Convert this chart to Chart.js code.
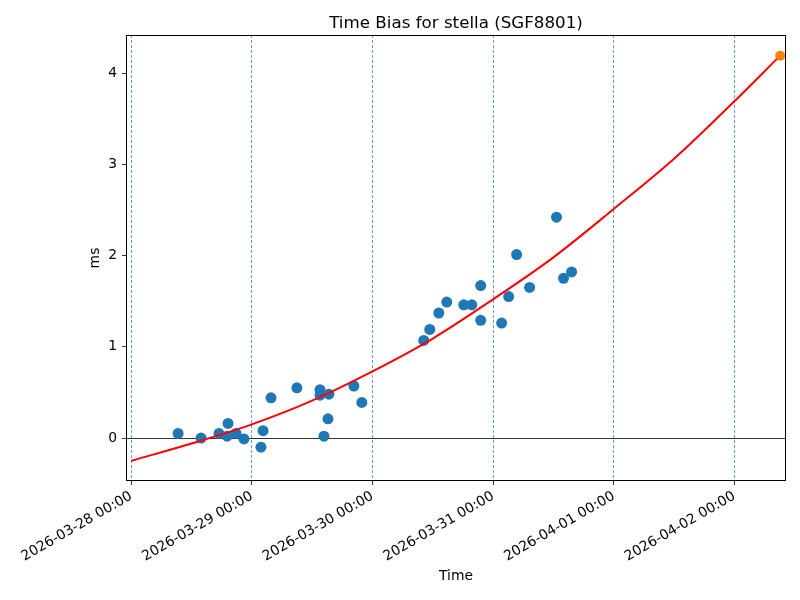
<!DOCTYPE html>
<html>
<head>
<meta charset="utf-8">
<script src="https://cdn.jsdelivr.net/npm/chart.js@4"></script>
<style>
  html, body { margin: 0; padding: 0; background: #fff; }
  #wrap { width: 800px; height: 600px; }
</style>
</head>
<body>
<div id="wrap"><canvas id="chart" width="800" height="600"></canvas></div>
<script>
const START = "2026-03-28T00:00";

// measured time bias samples (ms)
const sampleTimes = [
    "2026-03-28T09:20", "2026-03-28T13:54", "2026-03-28T17:28", "2026-03-28T19:05",
    "2026-03-28T19:16", "2026-03-28T20:51", "2026-03-28T22:26", "2026-03-29T01:49",
    "2026-03-29T02:14", "2026-03-29T03:49", "2026-03-29T08:58", "2026-03-29T13:34",
    "2026-03-29T13:34", "2026-03-29T14:21", "2026-03-29T15:09", "2026-03-29T15:20",
    "2026-03-29T20:18", "2026-03-29T21:53", "2026-03-30T10:12", "2026-03-30T11:24",
    "2026-03-30T13:12", "2026-03-30T14:47", "2026-03-30T18:10", "2026-03-30T19:45",
    "2026-03-30T21:32", "2026-03-30T21:32", "2026-03-31T01:42", "2026-03-31T03:06",
    "2026-03-31T04:41", "2026-03-31T07:16", "2026-03-31T12:37", "2026-03-31T14:01",
    "2026-03-31T15:37"
];
const sampleBias = [
    0.05, 0.00, 0.05, 0.02,
    0.16, 0.05, -0.01, -0.10,
    0.08, 0.44, 0.55, 0.53,
    0.47, 0.02, 0.21, 0.48,
    0.57, 0.39, 1.07, 1.19,
    1.37, 1.49, 1.46, 1.46,
    1.67, 1.29, 1.26, 1.55,
    2.01, 1.65, 2.42, 1.75,
    1.82
];

// fitted curve
const fitTimes = [
    "2026-03-28T00:00", "2026-03-28T12:00", "2026-03-29T00:00", "2026-03-29T12:00",
    "2026-03-30T00:00", "2026-03-30T12:00", "2026-03-31T00:00", "2026-03-31T12:00",
    "2026-04-01T00:00", "2026-04-01T12:00", "2026-04-02T00:00", "2026-04-02T09:07"
];
const fitBias = [-0.25, -0.06, 0.15, 0.41, 0.73, 1.09, 1.52, 1.98, 2.51, 3.06, 3.69, 4.19];

// predicted point
const predTimes = ["2026-04-02T09:07"];
const predBias = [4.19];

const tickLabels = [
    "2026-03-28 00:00", "2026-03-29 00:00", "2026-03-30 00:00",
    "2026-03-31 00:00", "2026-04-01 00:00", "2026-04-02 00:00"
];

const FONT = "'DejaVu Sans', sans-serif";

function days(t) {
    return (Date.parse(t + ":00Z") - Date.parse(START + ":00Z")) / 86400000;
}
function toPoints(times, vals) {
    return times.map((t, i) => ({ x: days(t), y: vals[i] }));
}

const frame = {
    id: "frame",
    afterDraw(chart) {
        const { ctx, chartArea: a } = chart;
        ctx.save();
        ctx.strokeStyle = "#000";
        ctx.lineWidth = 1;
        const l = Math.round(a.left) + 0.5, t = Math.round(a.top) + 0.5;
        const r = Math.round(a.right) - 0.5, b = Math.round(a.bottom) - 0.5;
        ctx.strokeRect(l, t, r - l, b - t);
        ctx.restore();
    }
};

new Chart(document.getElementById("chart"), {
    type: "scatter",
    data: {
        datasets: [
            {
                label: "pred",
                data: toPoints(predTimes, predBias),
                backgroundColor: "#ff7f0e",
                borderWidth: 0,
                pointRadius: 5,
                order: 0
            },
            {
                label: "fit",
                data: toPoints(fitTimes, fitBias),
                showLine: true,
                borderColor: "#ff0000",
                borderWidth: 2,
                pointRadius: 0,
                cubicInterpolationMode: "monotone",
                order: 1
            },
            {
                label: "bias",
                data: toPoints(sampleTimes, sampleBias),
                backgroundColor: "#1f77b4",
                borderWidth: 0,
                pointRadius: 5.5,
                order: 2
            }
        ]
    },
    options: {
        responsive: false,
        animation: false,
        events: [],
        layout: { padding: { top: 0, right: 14, bottom: 0, left: 0 } },
        plugins: {
            legend: { display: false },
            tooltip: { enabled: false },
            title: {
                display: true,
                text: "Time Bias for stella (SGF8801)",
                color: "#000",
                fullSize: false,
                font: { family: FONT, size: 16.7, weight: "normal", lineHeight: 1.2 },
                padding: { top: 14, bottom: 1 }
            }
        },
        scales: {
            x: {
                type: "linear",
                min: -0.043,
                max: 5.428,
                afterFit(s) { s.height = 119; },
                grid: {
                    color: "#3a87c0",
                    lineWidth: 0.8,
                    tickColor: "#000",
                    tickLength: 4,
                    tickBorderDash: []
                },
                border: { display: false, dash: [3, 2] },
                ticks: {
                    stepSize: 1,
                    includeBounds: false,
                    autoSkip: false,
                    minRotation: 30,
                    maxRotation: 30,
                    color: "#000",
                    padding: 3,
                    font: { family: FONT, size: 13.9 },
                    callback: v => tickLabels[v] ?? ""
                },
                title: {
                    display: true,
                    text: "Time",
                    color: "#000",
                    font: { family: FONT, size: 13.9, lineHeight: 1.2 },
                    padding: { top: 0, bottom: 15 }
                }
            },
            y: {
                min: -0.471,
                max: 4.416,
                afterFit(s) { s.width = 126; },
                grid: {
                    color: c => (c.tick && c.tick.value === 0 ? "#000" : "rgba(0,0,0,0)"),
                    lineWidth: 0.8,
                    tickColor: "#000",
                    tickLength: 4
                },
                border: { display: false },
                ticks: {
                    stepSize: 1,
                    includeBounds: false,
                    color: "#000",
                    padding: 5,
                    font: { family: FONT, size: 13.9 }
                },
                title: {
                    display: true,
                    text: "ms",
                    color: "#000",
                    font: { family: FONT, size: 13.9, lineHeight: 1.2 },
                    padding: { top: 87, bottom: 0 }
                }
            }
        }
    },
    plugins: [frame]
});
</script>
</body>
</html>
